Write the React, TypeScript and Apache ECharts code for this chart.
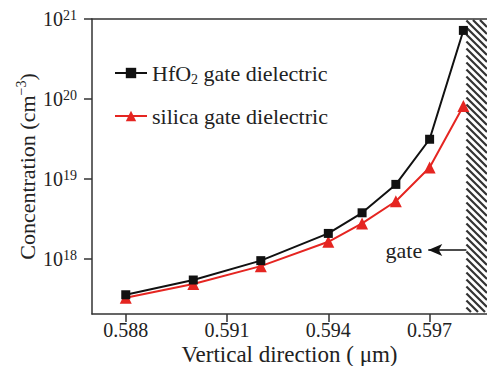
import React, { useEffect, useRef } from "react";
import * as echarts from "echarts";

const xValues = [0.588, 0.59, 0.592, 0.594, 0.595, 0.596, 0.597, 0.598];
const hfo2Values = [3.6e17, 5.5e17, 9.6e17, 2.1e18, 3.8e18, 8.6e18, 3.15e19, 7.2e20];
const silicaValues = [3.3e17, 4.9e17, 8.2e17, 1.65e18, 2.8e18, 5.3e18, 1.4e19, 8.2e19];
const xTicks = [0.588, 0.591, 0.594, 0.597];
const yTicks = [1e18, 1e19, 1e20, 1e21];
const xMin = 0.587;
const xMax = 0.5987;
const yMin = 2.07e17;
const yMax = 1e21;
const gateStart = 0.59809;
const arrowTip = 0.59696;
const arrowLevel = 1.3e18;

const FONT = "'Liberation Serif', 'Times New Roman', serif";
const lg = (v: number) => Math.log10(v);

export default function App() {
  const ref = useRef<HTMLDivElement>(null);
  useEffect(() => {
    if (!ref.current) return;
    const chart = echarts.init(ref.current, undefined, { renderer: "svg" });
    const hfo2Data = xValues.map((x, i) => [x, lg(hfo2Values[i])]);
    const silicaData = xValues.map((x, i) => [x, lg(silicaValues[i])]);
    const yTickExp = yTicks.map(lg);
    chart.setOption({
      animation: false,
      backgroundColor: "#fff",
      textStyle: { fontFamily: FONT, color: "#222" },
      grid: { left: 92, right: 0, top: 19, bottom: 52, containLabel: false, outerBoundsMode: "none" },
      legend: {
        data: ["HfO2 gate dielectric", "silica gate dielectric"],
        orient: "vertical",
        left: 109,
        top: 57,
        itemWidth: 32,
        itemHeight: 13,
        itemGap: 19,
        textStyle: {
          fontFamily: FONT,
          color: "#222",
          rich: {
            a: { fontFamily: FONT, fontSize: 22, lineHeight: 26, color: "#222" },
            sub: { fontFamily: FONT, fontSize: 14, lineHeight: 14, verticalAlign: "bottom", color: "#222" },
          },
        },
        formatter: (name: string) =>
          name.startsWith("HfO2")
            ? "{a|HfO}{sub|2}{a| gate dielectric}"
            : "{a|silica gate dielectric}",
      },
      xAxis: [
        {
          type: "value",
          min: xMin,
          max: xMax,
          name: "Vertical direction ( \u03bcm)",
          nameLocation: "middle",
          nameGap: 32,
          nameMoveOverlap: false,
          nameTextStyle: { fontFamily: FONT, fontSize: 23, lineHeight: 16, color: "#222" },
          axisLine: { show: true, lineStyle: { color: "#333", width: 1.5 } },
          axisTick: { show: true, length: 8, customValues: xTicks, lineStyle: { color: "#333", width: 1.5 } },
          axisLabel: {
            customValues: xTicks,
            margin: 8,
            fontFamily: FONT,
            fontSize: 20,
            lineHeight: 16,
            color: "#222",
            formatter: (v: number) => v.toFixed(3),
          },
          splitLine: { show: false },
        },
        {
          type: "value",
          position: "top",
          min: xMin,
          max: xMax,
          axisLine: { show: true, lineStyle: { color: "#333", width: 1.5 } },
          axisTick: { show: false },
          axisLabel: { show: false },
          splitLine: { show: false },
        },
      ],
      yAxis: {
        type: "value",
        min: lg(yMin),
        max: lg(yMax),
        name: "{n|Concentration (cm}{s|\u22123}{n|)}",
        nameLocation: "middle",
        nameGap: 52,
        nameMoveOverlap: false,
        nameTextStyle: {
          fontFamily: FONT,
          color: "#222",
          rich: {
            n: { fontFamily: FONT, fontSize: 22, lineHeight: 26, color: "#222" },
            s: { fontFamily: FONT, fontSize: 14, lineHeight: 14, verticalAlign: "top", color: "#222" },
          },
        },
        axisLine: { show: true, lineStyle: { color: "#333", width: 1.5 } },
        axisTick: { show: true, length: 8, customValues: yTickExp, lineStyle: { color: "#333", width: 1.5 } },
        axisLabel: {
          customValues: yTickExp,
          margin: 15,
          fontFamily: FONT,
          color: "#222",
          formatter: (v: number) => `{b|10}{s|${Math.round(v)}}`,
          rich: {
            b: { fontFamily: FONT, fontSize: 20, lineHeight: 22, color: "#222" },
            s: { fontFamily: FONT, fontSize: 14, lineHeight: 14, verticalAlign: "top", color: "#222" },
          },
        },
        splitLine: { show: false },
      },
      series: [
        {
          name: "HfO2 gate dielectric",
          type: "line",
          data: hfo2Data,
          symbol: "rect",
          symbolSize: 9,
          color: "#111",
          lineStyle: { color: "#111", width: 2 },
          itemStyle: { color: "#111" },
          z: 3,
          markLine: {
            silent: true,
            symbol: ["none", "arrow"],
            symbolSize: [9, 14],
            lineStyle: { color: "#111", width: 1.5, type: "solid" },
            label: {
              show: true,
              position: "end",
              distance: 6,
              formatter: "gate",
              fontFamily: FONT,
              fontSize: 22,
              color: "#222",
            },
            data: [[{ coord: [gateStart, lg(arrowLevel)] }, { coord: [arrowTip, lg(arrowLevel)] }]],
          },
        },
        {
          name: "silica gate dielectric",
          type: "line",
          data: silicaData,
          symbol: "triangle",
          symbolSize: 12,
          color: "#e52521",
          lineStyle: { color: "#e52521", width: 2 },
          itemStyle: { color: "#e52521" },
          z: 2,
        },
        {
          name: "gate",
          type: "custom",
          data: [[gateStart, lg(yMax)]],
          encode: { x: 0, y: 1 },
          silent: true,
          z: 1,
          renderItem: (params: any, api: any) => {
            const cs = params.coordSys;
            const x0 = api.coord([api.value(0), api.value(1)])[0];
            const x1 = cs.x + cs.width;
            const y0 = cs.y + 1;
            const y1 = cs.y + cs.height - 2;
            const w = x1 - x0;
            const step = 7;
            const children: any[] = [];
            for (let c = y0 - w; c < y1; c += step) {
              let xa = x0, ya = c, xb = x1, yb = c + w;
              if (ya < y0) { xa += y0 - ya; ya = y0; }
              if (yb > y1) { xb -= yb - y1; yb = y1; }
              if (xb > xa) {
                children.push({
                  type: "line",
                  shape: { x1: xa, y1: ya, x2: xb, y2: yb },
                  style: { stroke: "#333", lineWidth: 2.2 },
                });
              }
            }
            return { type: "group", children };
          },
        },
      ],
    });
    return () => chart.dispose();
  }, []);
  return <div ref={ref} style={{ width: 487, height: 366, position: "absolute", left: 0, top: 0 }} />;
}
